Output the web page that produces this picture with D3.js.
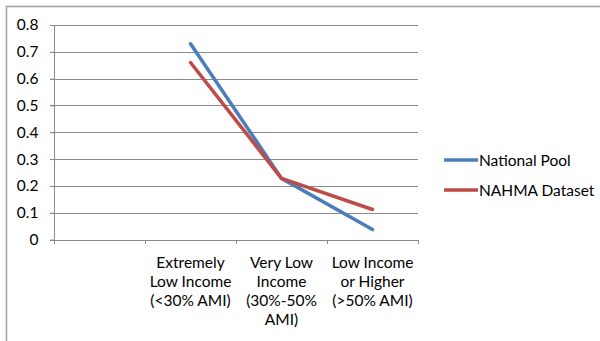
<!DOCTYPE html>
<html><head><meta charset="utf-8">
<script src="https://cdn.jsdelivr.net/npm/d3@7"></script>
<style>body{margin:0;background:#fff}svg{display:block}text{font-family:Lato,"Open Sans",sans-serif;fill:#000}</style>
</head><body><svg id="c" width="600" height="341"></svg>
<script>
const categories = ["", "Extremely\nLow Income\n(<30% AMI)", "Very Low\nIncome\n(30%-50%\nAMI)", "Low Income\nor Higher\n(>50% AMI)"];
const seriesNames = ["National Pool", "NAHMA Dataset"];
const nationalPool = [null, 0.73, 0.228, 0.037];
const nahmaDataset = [null, 0.66, 0.228, 0.112];
const yTicks = [0, 0.1, 0.2, 0.3, 0.4, 0.5, 0.6, 0.7, 0.8];
const colors = ["#4a7ebb", "#be4b48"];

const svg = d3.select("#c");
svg.append("rect").attr("x", 6.5).attr("y", 6.5).attr("width", 600).attr("height", 340)
  .attr("fill", "none").attr("stroke", "#a0a0a0").attr("stroke-width", 1.5);

const x = d3.scaleBand().domain(categories).range([54, 418]);
const y = d3.scaleLinear().domain([0, 0.8]).range([239.5, 25]);
const fs = 15.5;

// gridlines
svg.append("g").selectAll("line").data(yTicks).join("line")
  .attr("x1", 50).attr("x2", 418)
  .attr("y1", d => Math.round(y(d)) + 0.5).attr("y2", d => Math.round(y(d)) + 0.5)
  .attr("stroke", "#8a8a8a").attr("stroke-width", 1);

// y axis
const ya = svg.append("g").attr("transform", "translate(54.5,0)")
  .call(d3.axisLeft(y).tickValues(yTicks).tickSize(4).tickFormat(d => d === 0 ? "0" : d3.format(".1f")(d)));
ya.select(".domain").attr("stroke", "#8a8a8a").attr("d", `M0,${y(0.8)}V${y(0)}`);
ya.selectAll(".tick line").attr("stroke", "#8a8a8a");
ya.selectAll(".tick text").attr("x", -16).attr("font-size", fs).attr("font-family", "Lato");

// x axis ticks at band boundaries
const bounds = categories.map(c => x(c)).concat([x(categories[categories.length - 1]) + x.bandwidth()]);
svg.append("g").selectAll("line").data(bounds).join("line")
  .attr("x1", d => Math.round(d) + 0.5).attr("x2", d => Math.round(d) + 0.5)
  .attr("y1", 240).attr("y2", 244).attr("stroke", "#8a8a8a");

// category labels
const lab = svg.append("g").selectAll("text").data(categories).join("text")
  .attr("x", d => x(d) + x.bandwidth() / 2).attr("y", 268)
  .attr("text-anchor", "middle").attr("font-size", fs);
lab.each(function(d) {
  const t = d3.select(this);
  d.split("\n").forEach((s, i) => t.append("tspan").attr("x", x(d) + x.bandwidth() / 2).attr("dy", i ? 19 : 0).text(s));
});

// lines
const line = d3.line().defined(d => d.v != null).x(d => x(d.c) + x.bandwidth() / 2).y(d => y(d.v));
[nationalPool, nahmaDataset].forEach((vals, i) => {
  svg.append("path").datum(categories.map((c, j) => ({c, v: vals[j]})))
    .attr("d", line).attr("fill", "none").attr("stroke", colors[i])
    .attr("stroke-width", 3.5).attr("stroke-linejoin", "round").attr("stroke-linecap", "round");
});

// legend
const lg = svg.append("g").selectAll("g").data(seriesNames).join("g")
  .attr("transform", (d, i) => `translate(444,${160 + i * 30})`);
lg.append("line").attr("x1", 0).attr("x2", 34).attr("stroke", (d, i) => colors[i]).attr("stroke-width", 3.5);
lg.append("text").attr("x", 35).attr("y", 5.5).attr("font-size", fs).text(d => d);
</script></body></html>
